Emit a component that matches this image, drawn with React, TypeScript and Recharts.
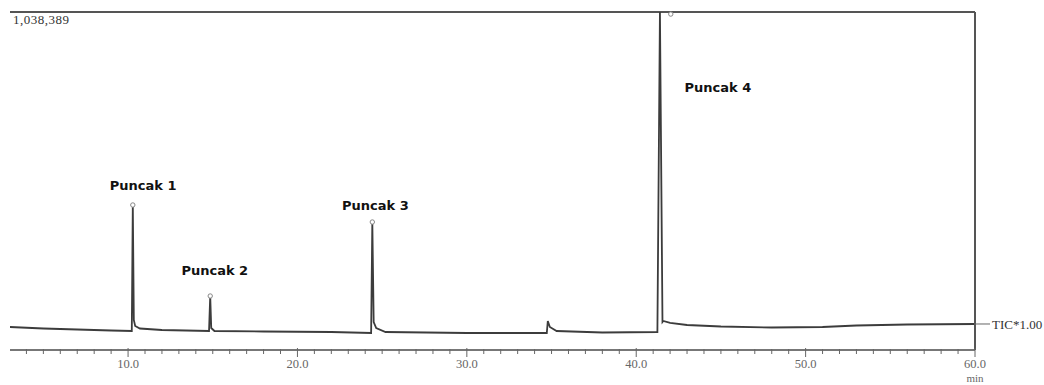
import React from "react";
import {
  LineChart,
  Line,
  XAxis,
  YAxis,
  ReferenceLine,
  ReferenceDot,
} from "recharts";

// Retention time (min)
const times = [
  3.03, 5.0, 7.0, 9.0, 10.22, 10.28, 10.34, 10.42, 10.7, 12.0, 14.78, 14.85,
  14.91, 15.1, 18.0, 22.0, 24.35, 24.42, 24.5, 24.65, 25.2, 30.0, 34.72, 34.78,
  34.9, 35.3, 38.0, 41.25, 41.4, 41.55, 41.6, 42.0, 43.0, 45.0, 48.0, 51.0,
  53.0, 56.0, 60.0,
];
// TIC intensity
const intensity = [
  70660, 66000, 63000, 59900, 58400, 445500, 92200, 73700, 66000, 61400, 58400,
  165900, 67600, 58400, 56800, 55300, 52200, 393200, 86000, 67600, 55300,
  52200, 52200, 89100, 70700, 58400, 53800, 55300, 1038389, 86000, 89100,
  83000, 76800, 72200, 69100, 70700, 75300, 78300, 79900,
];

const peakLabels = ["Puncak 1", "Puncak 2", "Puncak 3", "Puncak 4"];
const labelTimes = [10.89, 15.12, 24.6, 44.82];
const labelValues = [506900, 245800, 445400, 808000];

const markerTimes = [10.28, 14.85, 24.42, 42.04];
const markerValues = [445500, 165900, 393200, 1032000];

const yMax = 1038389;
const maxLabel = "1,038,389";
const ticLabel = "TIC*1.00";
const ticValue = 79900;
const xMin = 3.03;
const xMax = 60;
const minorTicks = [
  4, 5, 6, 7, 8, 9, 10, 11, 12, 13, 14, 15, 16, 17, 18, 19, 20, 21, 22, 23, 24,
  25, 26, 27, 28, 29, 30, 31, 32, 33, 34, 35, 36, 37, 38, 39, 40, 41, 42, 43,
  44, 45, 46, 47, 48, 49, 50, 51, 52, 53, 54, 55, 56, 57, 58, 59, 60,
];
const majorTicks = [10, 20, 30, 40, 50, 60];
const majorTickLabels = ["10.0", "20.0", "30.0", "40.0", "50.0", "60.0"];
const unitLabel = "min";

const data = times.map((t, i) => ({ t, v: intensity[i] }));

const serif = "'Liberation Serif', 'Times New Roman', serif";

const XTick = (props: any) => {
  const { x, y, payload } = props;
  const idx = majorTicks.indexOf(payload.value);
  const major = idx >= 0;
  return (
    <g>
      <line
        x1={x}
        x2={x}
        y1={y - (major ? 2 : 1)}
        y2={y + (major ? 7 : 4)}
        stroke="#666"
        strokeWidth={1}
      />
      {major && (
        <text
          x={x}
          y={y + 18}
          textAnchor="middle"
          fill="#666"
          fontFamily={serif}
          fontSize={12.5}
        >
          {majorTickLabels[idx]}
        </text>
      )}
      {payload.value === xMax && (
        <text
          x={x}
          y={y + 32}
          textAnchor="middle"
          fill="#666"
          fontFamily={serif}
          fontSize={11}
        >
          {unitLabel}
        </text>
      )}
    </g>
  );
};

export default function App() {
  return (
    <div style={{ position: "absolute", left: 0, top: 0, background: "#fff" }}>
      <LineChart
        width={1044}
        height={385}
        data={data}
        margin={{ top: 12, right: 0, bottom: 0, left: 10 }}
      >
        <XAxis
          dataKey="t"
          type="number"
          domain={[xMin, xMax]}
          allowDataOverflow
          ticks={minorTicks}
          interval={0}
          tick={<XTick />}
          tickLine={false}
          tickSize={0}
          tickMargin={0}
          height={35}
          axisLine={{ stroke: "#777", strokeWidth: 2 }}
        />
        <YAxis
          yAxisId="left"
          domain={[0, yMax]}
          allowDataOverflow
          width={0}
          tick={false}
          tickLine={false}
          axisLine={{ stroke: "#555", strokeWidth: 2 }}
        />
        <YAxis
          yAxisId="right"
          orientation="right"
          domain={[0, yMax]}
          allowDataOverflow
          width={69}
          ticks={[ticValue]}
          interval={0}
          tickFormatter={() => ticLabel}
          tickSize={15}
          tickMargin={2}
          tickLine={{ stroke: "#666" }}
          tick={{ fill: "#333", fontFamily: serif, fontSize: 13 }}
          axisLine={{ stroke: "#555", strokeWidth: 2 }}
        />
        <ReferenceLine
          yAxisId="left"
          y={yMax}
          stroke="#555"
          strokeWidth={2}
          label={{
            value: maxLabel,
            position: "insideTopLeft",
            offset: 3,
            fill: "#333",
            fontFamily: serif,
            fontSize: 13,
            letterSpacing: 0.5,
          }}
        />
        <Line
          yAxisId="left"
          dataKey="v"
          type="linear"
          stroke="#3c3c3c"
          strokeWidth={1.8}
          dot={false}
          isAnimationActive={false}
        />
        {markerTimes.map((t, i) => (
          <ReferenceDot
            key={"m" + i}
            yAxisId="left"
            x={t}
            y={markerValues[i]}
            r={2.2}
            fill="#fff"
            stroke="#888"
            strokeWidth={1}
          />
        ))}
        {peakLabels.map((lbl, i) => (
          <ReferenceDot
            key={"l" + i}
            yAxisId="left"
            x={labelTimes[i]}
            y={labelValues[i]}
            r={1}
            fill="none"
            stroke="none"
            label={{
              value: lbl,
              position: "center",
              fill: "#111",
              fontFamily: "'DejaVu Sans', sans-serif",
              fontWeight: 700,
              fontSize: 13,
            }}
          />
        ))}
      </LineChart>
    </div>
  );
}
